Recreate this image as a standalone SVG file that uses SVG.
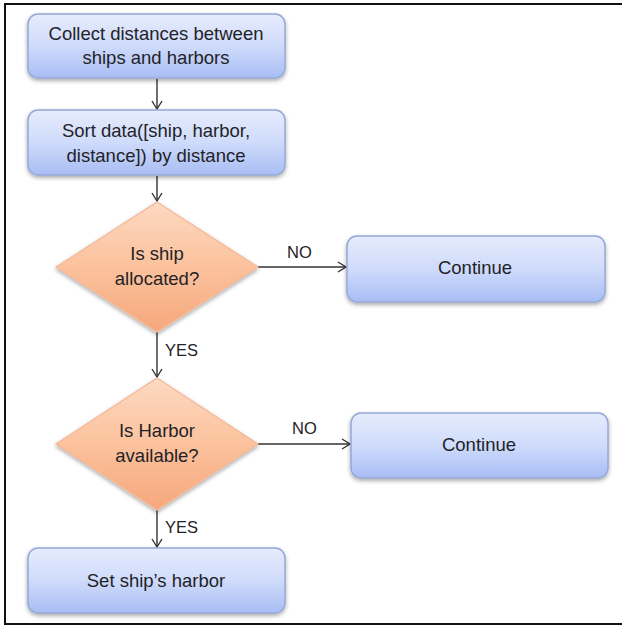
<svg xmlns="http://www.w3.org/2000/svg" width="622" height="626" viewBox="0 0 622 626">
<defs>
<linearGradient id="gBlue" x1="0" y1="0" x2="0" y2="1">
<stop offset="0" stop-color="#e6ecfd"/>
<stop offset="0.5" stop-color="#cfdbfb"/>
<stop offset="1" stop-color="#a8bdf4"/>
</linearGradient>
<linearGradient id="gOrange" x1="0" y1="0" x2="0" y2="1">
<stop offset="0" stop-color="#fdd9c2"/>
<stop offset="0.5" stop-color="#fbc29d"/>
<stop offset="1" stop-color="#f6a77b"/>
</linearGradient>
<filter id="shadow" x="-10%" y="-10%" width="120%" height="130%">
<feGaussianBlur in="SourceAlpha" stdDeviation="2"/>
<feOffset dx="0" dy="2" result="b"/>
<feComponentTransfer><feFuncA type="linear" slope="0.35"/></feComponentTransfer>
<feMerge><feMergeNode/><feMergeNode in="SourceGraphic"/></feMerge>
</filter>
<marker id="arrow" markerWidth="12" markerHeight="12" refX="10" refY="6" orient="auto" markerUnits="userSpaceOnUse">
<path d="M2,1 L10,6 L2,11" fill="none" stroke="#333" stroke-width="1.4"/>
</marker>
</defs>
<style>
.box{fill:url(#gBlue);stroke:#95a8d8;stroke-width:1.5;filter:url(#shadow)}
.dia{fill:url(#gOrange);stroke:#f5b896;stroke-width:1.2;filter:url(#shadow)}
.t{font-family:"Liberation Sans",Arial,sans-serif;font-size:18.5px;fill:#1f2326;text-anchor:middle}
.lbl{font-family:"Liberation Sans",Arial,sans-serif;font-size:16.5px;fill:#1f2326}
.c{fill:none;stroke:#333;stroke-width:1.4;marker-end:url(#arrow)}
</style>
<rect width="622" height="626" fill="#ffffff"/>
<rect x="5" y="4" width="640" height="620" fill="none" stroke="#111" stroke-width="2"/>
<g id="connectors">
<line class="c" x1="157" y1="79" x2="157" y2="109"/>
<line class="c" x1="157" y1="176" x2="157" y2="201"/>
<line class="c" x1="258" y1="267" x2="346" y2="267"/>
<line class="c" x1="157" y1="332" x2="157" y2="377"/>
<line class="c" x1="258" y1="444" x2="350" y2="444"/>
<line class="c" x1="157" y1="510" x2="157" y2="547"/>
<text class="lbl" x="287" y="258">NO</text>
<text class="lbl" x="292" y="434">NO</text>
<text class="lbl" x="165" y="356">YES</text>
<text class="lbl" x="165" y="533">YES</text>
</g>
<g id="collect">
<rect class="box" x="28" y="14" width="257" height="64" rx="10"/>
<text class="t" x="156" y="40">Collect distances between</text>
<text class="t" x="156" y="64">ships and harbors</text>
</g>
<g id="sort">
<rect class="box" x="28" y="110" width="257" height="65" rx="10"/>
<text class="t" x="156" y="137">Sort data([ship, harbor,</text>
<text class="t" x="156" y="162">distance]) by distance</text>
</g>
<g id="decision1">
<polygon class="dia" points="157,202 258,267 157,332 56,267"/>
<text class="t" x="157" y="260">Is ship</text>
<text class="t" x="157" y="285">allocated?</text>
</g>
<g id="continue1">
<rect class="box" x="347" y="236" width="258" height="66" rx="10"/>
<text class="t" x="475" y="274">Continue</text>
</g>
<g id="decision2">
<polygon class="dia" points="157,378 258,444 157,510 56,444"/>
<text class="t" x="157" y="437">Is Harbor</text>
<text class="t" x="157" y="462">available?</text>
</g>
<g id="continue2">
<rect class="box" x="351" y="413" width="257" height="65" rx="10"/>
<text class="t" x="479" y="451">Continue</text>
</g>
<g id="setharbor">
<rect class="box" x="28" y="548" width="257" height="65" rx="10"/>
<text class="t" x="156" y="587">Set ship’s harbor</text>
</g>
</svg>
